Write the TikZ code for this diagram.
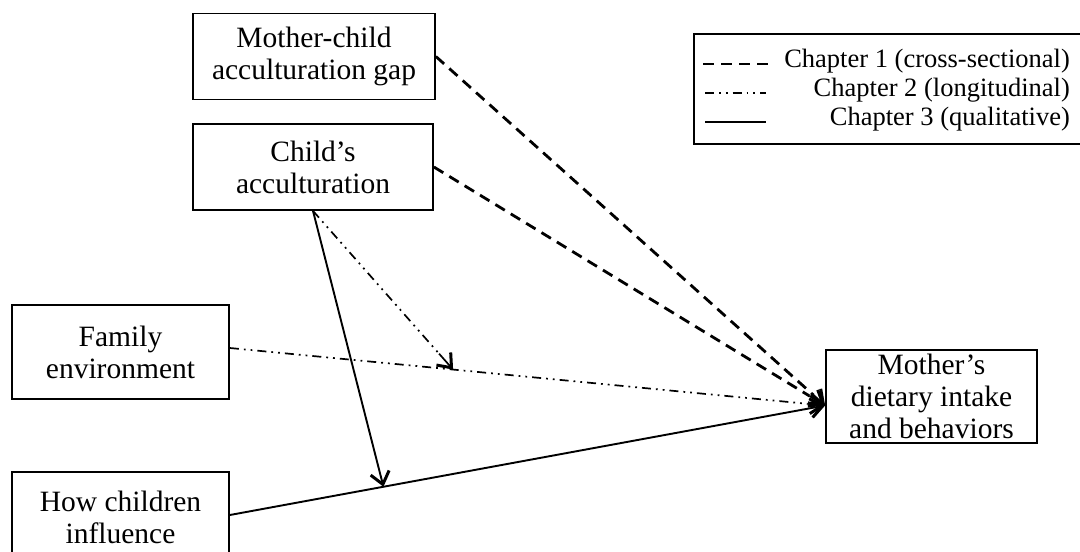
\documentclass[tikz,border=0pt]{standalone}
\usepackage{fontspec}
\setmainfont{Liberation Serif}
\usetikzlibrary{arrows.meta,calc}

\tikzset{
  box/.style={draw, line width=1.8pt, rectangle, align=center, inner sep=0pt,
              font=\fontsize{29.5}{32}\selectfont},
  legtext/.style={anchor=east, inner sep=0pt, font=\fontsize{26.5}{28}\selectfont},
  chone/.style={line width=2.8pt, dash pattern=on 11pt off 7pt},
  chtwo/.style={line width=1.7pt, dash pattern=on 9pt off 5pt on 1.8pt off 5pt on 1.8pt off 5pt},
  chthree/.style={line width=1.9pt},
  tip/.style={-{Straight Barb[length=12pt,width=19pt,line width=3pt]}},
  tipseg/.style={solid, line width=1.9pt, tip}
}

\begin{document}
\begin{tikzpicture}[x=1pt,y=-1pt]
\useasboundingbox (0,0) rectangle (1080,552);

% concept boxes
\node[box, minimum width=242pt, minimum height=86pt] (A) at (314,56.5)
  {Mother-child\\acculturation gap};
\node[box, minimum width=240pt, minimum height=86pt] (B) at (313,167)
  {Child’s\\acculturation};
\node[box, minimum width=217pt, minimum height=94pt] (C) at (120.5,352)
  {Family\\environment};
\node[box, minimum width=217pt, minimum height=91pt] (D) at (120.5,517.5)
  {How children\\influence};
\node[box, minimum width=211pt, minimum height=93pt] (E) at (931.5,396.5)
  {Mother’s\\dietary intake\\and behaviors};

% arrow endpoints
\coordinate (Ein) at ([yshift=-9pt]E.west);
\coordinate (Cout) at ([yshift=4pt]C.east);
\coordinate (Dout) at ([yshift=2.5pt]D.east);
\coordinate (m1) at ($(Cout)!0.375!(Ein)$);
\coordinate (m2) at ($(Dout)!0.258!(Ein)$);

% Chapter 1
\draw[chone] (A.east) -- ($(A.east)!0.97!(Ein)$) coordinate (a1);
\draw[tipseg] (a1) -- (Ein);
\draw[chone] (B.east) -- ($(B.east)!0.96!(Ein)$) coordinate (b1);
\draw[tipseg] (b1) -- (Ein);
% Chapter 2
\draw[chtwo] (Cout) -- ($(Cout)!0.97!(Ein)$) coordinate (c1);
\draw[tipseg, line width=1.7pt] (c1) -- (Ein);
\draw[chtwo] (B.south) -- ($(B.south)!0.9!(m1)$) coordinate (b2);
\draw[tipseg, line width=1.7pt] (b2) -- (m1);
% Chapter 3
\draw[chthree, tip] (Dout) -- (Ein);
\draw[chthree, tip] (B.south) -- (m2);

% legend
\node[draw, line width=1.8pt, rectangle, minimum width=391pt, minimum height=110pt,
      inner sep=0pt] (L) at (889.5,89) {};
\coordinate (l1a) at (703,64);  \coordinate (l1b) at (768,64);
\coordinate (l2a) at (705,93);  \coordinate (l2b) at (766,93);
\coordinate (l3a) at (705,122); \coordinate (l3b) at (766,122);
\draw[chone] (l1a) -- (l1b);
\draw[chtwo, line width=1.4pt] (l2a) -- (l2b);
\draw[chthree] (l3a) -- (l3b);
\node[legtext] (t1) at (1070,61) {Chapter 1 (cross-sectional)};
\node[legtext] (t2) at (1070,90) {Chapter 2 (longitudinal)};
\node[legtext] (t3) at (1070,119) {Chapter 3 (qualitative)};
\end{tikzpicture}
\end{document}
